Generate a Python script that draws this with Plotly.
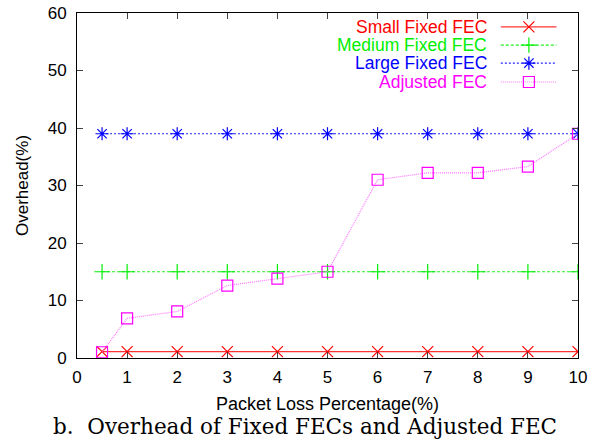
import plotly.graph_objects as go

# Packet loss percentages (x) and overhead (%) per FEC scheme
loss = [0.5, 1, 2, 3, 4, 5, 6, 7, 8, 9, 10]
small_fixed = [1.1] * 11
medium_fixed = [15] * 11
large_fixed = [39] * 11
adjusted = [1.0, 6.9, 8.1, 12.6, 13.8, 15.0, 31.0, 32.2, 32.2, 33.3, 39.0]

names = ["Small Fixed FEC", "Medium Fixed FEC", "Large Fixed FEC", "Adjusted FEC"]
colors = ["#ff0000", "#00ee00", "#0000ff", "#ff00ff"]
line_colors = ["#ff3333", "#22ee22", "#2222ff", "#ff77ff"]
dashes = ["solid", "3px,2px", "2px,2px", "1px,1px"]
symbols = ["x-thin-open", "cross-thin-open", "asterisk-open", "square-open"]
series = [small_fixed, medium_fixed, large_fixed, adjusted]

fig = go.Figure()
for name, ys, c, lc, d, s in zip(names, series, colors, line_colors, dashes, symbols):
    fig.add_trace(go.Scatter(
        x=loss, y=ys, mode="lines+markers", name=name, showlegend=False,
        line=dict(color=lc, width=1.2, dash=d),
        marker=dict(symbol=s, size=11, color=c, line=dict(color=c, width=1.2)),
    ))

# Key drawn gnuplot-style: right-aligned labels with line samples to their right
key_y = [0.96, 0.907, 0.855, 0.80]
for name, c, lc, d, s, ky in zip(names, colors, line_colors, dashes, symbols, key_y):
    fig.add_trace(go.Scatter(
        x=[0.846, 0.902, 0.957], y=[ky, ky, ky], xaxis="x2", yaxis="y2",
        mode="lines", showlegend=False, hoverinfo="skip",
        line=dict(color=lc, width=1.2, dash=d),
    ))
    fig.add_trace(go.Scatter(
        x=[0.902], y=[ky], xaxis="x2", yaxis="y2",
        mode="markers", showlegend=False, hoverinfo="skip",
        marker=dict(symbol=s, size=11, color=c, line=dict(color=c, width=1.2)),
    ))
    fig.add_annotation(
        x=0.823, y=ky, xref="x2", yref="y2", text=name, showarrow=False,
        xanchor="right", yanchor="middle",
        font=dict(family="Liberation Sans, Arial, sans-serif", size=17.5, color=c),
    )

axis_font = dict(family="Liberation Sans, Arial, sans-serif", size=17, color="black")
fig.update_layout(
    width=600, height=447,
    margin=dict(l=77, r=22, t=13, b=89, autoexpand=False),
    paper_bgcolor="white", plot_bgcolor="white",
    font=axis_font,
    xaxis=dict(
        range=[0, 10], tickvals=list(range(11)), ticks="inside", ticklen=6,
        showline=True, linecolor="black", linewidth=1, mirror="ticks",
        showgrid=False, zeroline=False, tickfont=axis_font, automargin=False,
        ticklabelstandoff=4,
        title=dict(text="Packet Loss Percentage(%)",
                   font=dict(family="Liberation Sans, Arial, sans-serif", size=18, color="black"),
                   standoff=10),
    ),
    yaxis=dict(
        range=[0, 60], tickvals=[0, 10, 20, 30, 40, 50, 60], ticks="inside", ticklen=6,
        showline=True, linecolor="black", linewidth=1, mirror="ticks",
        showgrid=False, zeroline=False, tickfont=axis_font, automargin=False,
        ticklabelstandoff=6,
        title=dict(text="Overhead(%)", font=axis_font, standoff=14),
    ),
    xaxis2=dict(range=[0, 1], overlaying="x", visible=False),
    yaxis2=dict(range=[0, 1], overlaying="y", visible=False),
)

fig.add_annotation(
    x=0.455, y=-0.198, xref="paper", yref="paper", yanchor="middle",
    text="b.\u00a0 Overhead of Fixed FECs and Adjusted FEC", showarrow=False,
    font=dict(family="DejaVu Serif, Liberation Serif, serif", size=21.5, color="black"),
)

fig.write_html("out.html")
